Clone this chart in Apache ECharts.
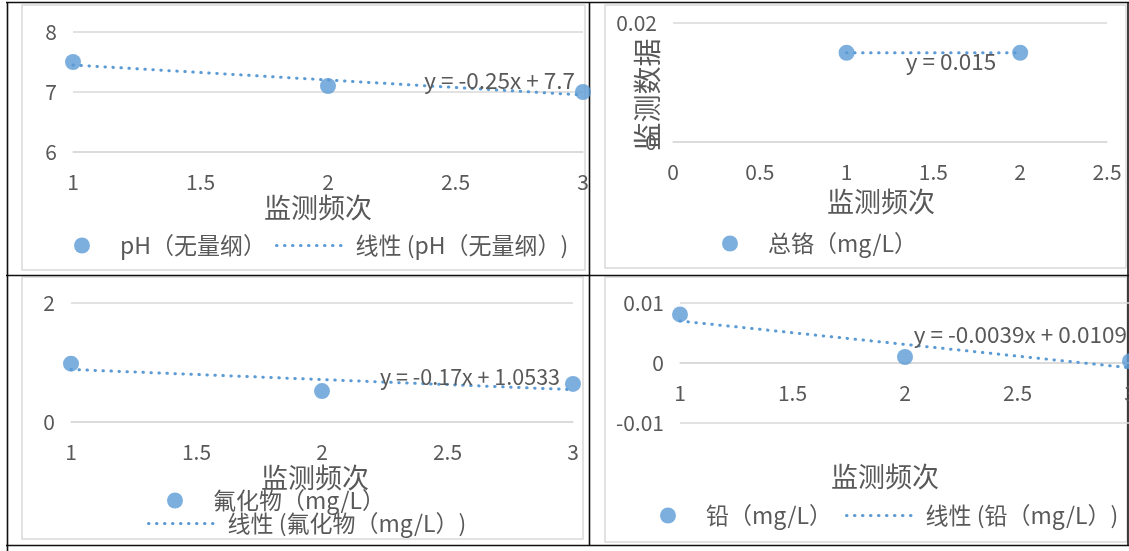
<!DOCTYPE html>
<html>
<head>
<meta charset="utf-8">
<title>监测数据</title>
<script src="https://cdn.jsdelivr.net/npm/echarts@6/dist/echarts.min.js"></script>
<style>
  html, body { margin: 0; padding: 0; background: #fff; }
  #chart { width: 1129px; height: 551px; }
</style>
</head>
<body>
<div id="chart"></div>
<script>
// Monitoring rounds (x) and measured values per parameter
const freqs = [1, 2, 3];
const phValues = [7.5, 7.1, 7.0];
const chromiumFreqs = [1, 2];
const chromiumValues = [0.015, 0.015];
const fluorideValues = [0.98, 0.52, 0.64];
const leadValues = [0.0081, 0.0010, 0.0003];

// Linear trend equations shown on each panel
const phTrend = { slope: -0.25, intercept: 7.7 };
const chromiumTrend = { slope: 0, intercept: 0.015 };
const fluorideTrend = { slope: -0.17, intercept: 1.0533 };
const leadTrend = { slope: -0.0039, intercept: 0.0109 };

// Axis ranges [min, max, interval]
const phXAxis = [1, 3, 0.5];
const phYAxis = [6, 8, 1];
const chromiumXAxis = [0, 2.5, 0.5];
const chromiumYAxis = [0, 0.02, 0.02];
const fluorideXAxis = [1, 3, 0.5];
const fluorideYAxis = [0, 2, 2];
const leadXAxis = [1, 3, 0.5];
const leadYAxis = [-0.01, 0.01, 0.01];

// Series names
const phName = 'pH（无量纲）';
const chromiumName = '总铬（mg/L）';
const fluorideName = '氟化物（mg/L）';
const leadName = '铅（mg/L）';
const trendName = n => '线性 (' + n + ')';
const xTitle = '监测频次';
const yTitle = '监测数据';

const BLUE = '#5b9bd5';
const TEXT = '#595959';
const GRIDLINE = '#d9d9d9';
const FONT = '"Noto Sans CJK SC", "Noto Sans", sans-serif';

function equationText(t) {
  if (t.slope === 0) return 'y = ' + t.intercept;
  return 'y = ' + t.slope + 'x + ' + t.intercept;
}

function trendPoints(t, xs, labelOffset, fontSize) {
  const x0 = xs[0], x1 = xs[xs.length - 1];
  return [
    { value: [x0, t.slope * x0 + t.intercept] },
    {
      value: [x1, t.slope * x1 + t.intercept],
      symbol: 'circle', symbolSize: 0,
      label: {
        show: true, position: 'left', distance: 0, offset: labelOffset,
        formatter: equationText(t), color: TEXT, fontSize: fontSize || 22.5, fontFamily: FONT
      }
    }
  ];
}

function xAxis(idx, r, nameGap, namePad, extra) {
  return Object.assign({
    type: 'value', gridIndex: idx, min: r[0], max: r[1], interval: r[2],
    axisLine: { show: true, onZero: false, lineStyle: { color: GRIDLINE, width: 1.5 } },
    axisTick: { show: false }, splitLine: { show: false },
    axisLabel: { color: TEXT, fontSize: 21, fontFamily: FONT, margin: 20 },
    name: xTitle, nameLocation: 'middle', nameGap: nameGap,
    nameTextStyle: { color: TEXT, fontSize: 27, fontFamily: FONT, padding: namePad }
  }, extra || {});
}

function yAxis(idx, r, extra) {
  return Object.assign({
    type: 'value', gridIndex: idx, min: r[0], max: r[1], interval: r[2],
    axisLine: { show: false }, axisTick: { show: false },
    splitLine: { show: true, lineStyle: { color: GRIDLINE, width: 1.5 } },
    axisLabel: { color: TEXT, fontSize: 21, fontFamily: FONT, margin: 16 }
  }, extra || {});
}

function scatter(name, idx, xs, ys) {
  return {
    name: name, type: 'scatter', xAxisIndex: idx, yAxisIndex: idx,
    symbol: 'circle', symbolSize: 16, itemStyle: { color: BLUE },
    data: xs.map((x, i) => [x, ys[i]]), z: 2
  };
}

function trend(name, idx, t, xs, labelOffset, fontSize) {
  return {
    name: name, type: 'line', xAxisIndex: idx, yAxisIndex: idx,
    symbol: 'none', showSymbol: true, silent: true,
    lineStyle: { color: BLUE, width: 3, type: [0.5, 7.5], cap: 'round' },
    itemStyle: { color: BLUE },
    data: trendPoints(t, xs, labelOffset, fontSize), z: 3
  };
}

function legend(items, left, top, gap) {
  return {
    left: left, top: top, width: 600, padding: 0,
    orient: 'horizontal', itemWidth: 66, itemHeight: 16, itemGap: gap || 13,
    selectedMode: false,
    textStyle: { color: TEXT, fontSize: 23, fontFamily: FONT },
    lineStyle: { width: 3 },
    data: items
  };
}
const dotItem = n => ({ name: n, icon: 'circle' });
const lineItem = n => ({ name: n, itemStyle: { opacity: 0 }, textStyle: { padding: [0, 0, 0, 8] } });

const chart = echarts.init(document.getElementById('chart'), null, { renderer: 'canvas' });

// Table cell borders and chart-area frames
const frame = (x1, y1, x2, y2) => ({
  type: 'rect', shape: { x: x1, y: y1, width: x2 - x1, height: y2 - y1 },
  style: { fill: 'none', stroke: GRIDLINE, lineWidth: 1.5 }, silent: true
});
const rule = (x1, y1, x2, y2) => ({
  type: 'line', shape: { x1: x1, y1: y1, x2: x2, y2: y2 },
  style: { stroke: '#111', lineWidth: 1.6 }, silent: true
});

const gridBase = { outerBoundsMode: 'none', containLabel: false };

chart.setOption({
  backgroundColor: '#fff',
  animation: false,
  graphic: [
    frame(22, 5, 585, 270),
    frame(605, 5, 1126, 268),
    frame(22, 277, 583, 539),
    frame(605, 277, 1127, 542),
    rule(6, 2.5, 1129, 2.5),
    rule(6, 275.5, 1129, 275.5),
    rule(6, 545.5, 1129, 545.5),
    rule(7.5, 2, 7.5, 551),
    rule(589.5, 2, 589.5, 546),
    rule(1128, 2, 1128, 546)
  ],
  grid: [
    Object.assign({ left: 73, right: 546, top: 32, bottom: 399 }, gridBase),
    Object.assign({ left: 673, right: 22, top: 23, bottom: 409 }, gridBase),
    Object.assign({ left: 71, right: 556, top: 303, bottom: 129 }, gridBase),
    Object.assign({ left: 680, right: -1, top: 303, bottom: 128 }, gridBase)
  ],
  xAxis: [
    xAxis(0, phXAxis, 37, [0, 20, 0, 0]),
    xAxis(1, chromiumXAxis, 46, [0, 18, 0, 0]),
    xAxis(2, fluorideXAxis, 35, [0, 14, 0, 0]),
    // the lead panel's horizontal axis crosses the value axis at zero
    xAxis(3, leadXAxis, 100, [0, 40, 0, 0], { offset: -60 })
  ],
  yAxis: [
    yAxis(0, phYAxis),
    yAxis(1, chromiumYAxis, {
      name: yTitle, nameLocation: 'middle', nameRotate: 90, nameGap: 12,
      nameMoveOverlap: false,
      nameTextStyle: { color: TEXT, fontSize: 28, fontFamily: FONT, padding: [0, 24, 0, 0] }
    }),
    yAxis(2, fluorideYAxis),
    yAxis(3, leadYAxis)
  ],
  legend: [
    legend([dotItem(phName), lineItem(trendName(phName))], 74, 234, 9),
    legend([dotItem(chromiumName)], 722, 232),
    legend([dotItem(fluorideName)], 167, 489),
    legend([lineItem(trendName(fluorideName))], 147, 512),
    legend([dotItem(leadName), lineItem(trendName(leadName))], 660, 504)
  ],
  series: [
    scatter(phName, 0, freqs, phValues),
    trend(trendName(phName), 0, phTrend, freqs, [-8, -15]),
    scatter(chromiumName, 1, chromiumFreqs, chromiumValues),
    trend(trendName(chromiumName), 1, chromiumTrend, chromiumFreqs, [-24, 9]),
    scatter(fluorideName, 2, freqs, fluorideValues),
    trend(trendName(fluorideName), 2, fluorideTrend, freqs, [-13, -13], 21.5),
    scatter(leadName, 3, freqs, leadValues),
    trend(trendName(leadName), 3, leadTrend, freqs, [-3, -33])
  ]
});
</script>
</body>
</html>
